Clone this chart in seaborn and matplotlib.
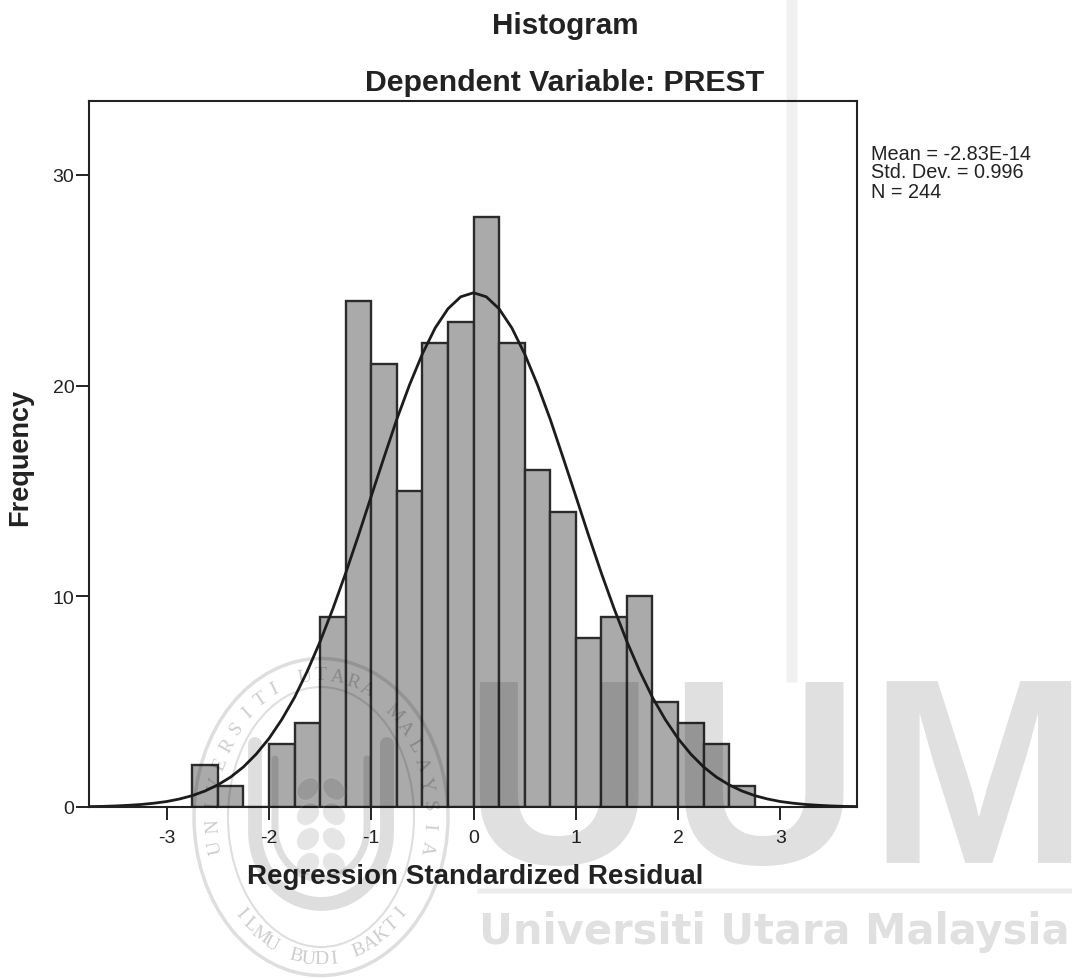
import numpy as np
import matplotlib
matplotlib.use('Agg')
import matplotlib.pyplot as plt
from matplotlib.lines import Line2D
from matplotlib.patches import Ellipse, Rectangle
import seaborn as sns

# bin edges and counts
bin_edges = [-2.75, -2.5, -2.25, -2.0, -1.75, -1.5, -1.25, -1.0, -0.75, -0.5, -0.25, 0.0,
             0.25, 0.5, 0.75, 1.0, 1.25, 1.5, 1.75, 2.0, 2.25, 2.5, 2.75]
counts = [2, 1, 0, 3, 4, 9, 24, 21, 15, 22, 23, 28, 22, 16, 14, 8, 9, 10, 5, 4, 3, 1]

# normal curve, right half (it is symmetric)
curve_x = [0.0, 0.125, 0.25, 0.375, 0.5, 0.625, 0.75, 0.875, 1.0, 1.125, 1.25, 1.375, 1.5, 1.625, 1.75,
           1.875, 2.0, 2.125, 2.25, 2.375, 2.5, 2.625, 2.75, 2.875, 3.0, 3.125, 3.25, 3.375, 3.5, 3.625, 3.75]
curve_y = [24.4, 24.21, 23.64, 22.73, 21.5, 20.04, 18.4, 16.59, 14.75, 12.89, 11.1, 9.41, 7.85, 6.45, 5.2,
           4.15, 3.25, 2.51, 1.9, 1.42, 1.05, 0.76, 0.54, 0.38, 0.26, 0.18, 0.12, 0.08, 0.05, 0.03, 0.02]

x_ticks = [-3, -2, -1, 0, 1, 2, 3]
y_ticks = [0, 10, 20, 30]
stats_text = "Mean = -2.83E-14\nStd. Dev. = 0.996\nN = 244"
arc_top = "UNIVERSITI UTARA MALAYSIA"
arc_bottom = "ILMU BUDI BAKTI"

W, H = 1072, 979
sns.set_style('white')
plt.rcParams['font.family'] = ['Liberation Sans', 'DejaVu Sans']
plt.rcParams['axes.unicode_minus'] = False

fig = plt.figure(figsize=(W / 100, H / 100), dpi=100)
ax = fig.add_axes([89 / W, 1 - 808 / H, 768 / W, 706 / H])
ax.patch.set_visible(False)

centers = [(a + b) / 2 for a, b in zip(bin_edges[:-1], bin_edges[1:])]
sns.histplot(x=centers, weights=counts, bins=bin_edges, color='#aaaaaa', edgecolor='#2b2b2b',
             linewidth=1.7, alpha=1, ax=ax)

xs = np.concatenate([-np.array(curve_x[:0:-1]), curve_x])
ys = np.concatenate([curve_y[:0:-1], curve_y])
sns.lineplot(x=xs, y=ys, color='#1c1c1c', linewidth=2.0, ax=ax, sort=False)

ax.set_xlim(-3.76, 3.75)
ax.set_ylim(0, 33.5)
ax.set_xticks(x_ticks)
ax.set_yticks(y_ticks)
ax.tick_params(axis='both', direction='out', length=9.5, width=1.4, color='#222222',
               labelsize=14, labelcolor='#222222', bottom=True, left=True)
ax.tick_params(axis='x', pad=6)
ax.tick_params(axis='y', pad=1)
for s in ax.spines.values():
    s.set_visible(True)
    s.set_color('#222222')
    s.set_linewidth(1.5)

ax.set_xlabel('Regression Standardized Residual', fontsize=20, fontweight='bold', color='#222222')
ax.xaxis.set_label_coords(0.503, -0.08)
ax.set_ylabel('Frequency', fontsize=19.5, fontweight='bold', color='#222222')
ax.yaxis.set_label_coords(-0.073, 0.497)


def px(x, y):
    return x / W, 1 - y / H


fig.text(*px(565, 26), 'Histogram', ha='center', va='center', fontsize=21.3, fontweight='bold', color='#222222')
fig.text(*px(565, 83), 'Dependent Variable: PREST', ha='center', va='center', fontsize=21.8,
         fontweight='bold', color='#222222')
fig.text(*px(871, 173), stats_text, ha='left', va='center', fontsize=14.3, linespacing=1.0, color='#222222')

# watermark of the scan, drawn over everything
wm = dict(color='black', alpha=0.12, zorder=10)
for letter, lx in [('U', 558), ('U', 763), ('M', 978)]:
    fig.text(*px(lx, 795), letter, ha='center', va='center', fontsize=190, fontweight='bold', **wm)
fig.text(*px(774, 932), 'Universiti Utara Malaysia', ha='center', va='center', fontsize=30,
         fontweight='bold', family='DejaVu Sans', **wm)
fig.add_artist(Rectangle(px(477, 894), 595 / W, 5 / H, transform=fig.transFigure, facecolor='black',
                         alpha=0.08, zorder=10))
fig.add_artist(Rectangle(px(786, 683), 11 / W, 683 / H, transform=fig.transFigure, facecolor='black',
                         alpha=0.06, zorder=10))

# university seal
cx, cy = 321, 818
for w_px, h_px, lw in [(254, 317, 2.5), (186, 260, 1.5)]:
    fig.add_artist(Ellipse(px(cx, cy), w_px / W, h_px / H, transform=fig.transFigure, fill=False,
                           edgecolor='black', alpha=0.13, linewidth=lw, zorder=10))


def shield(half_w, top, bottom, lw):
    t = np.linspace(np.pi, 2 * np.pi, 40)
    mid = bottom - half_w * 1.1
    sx = np.concatenate([[cx - half_w], cx + half_w * np.cos(t), [cx + half_w]])
    sy = np.concatenate([[top], mid - half_w * 1.1 * np.sin(t), [top]])
    fig.add_artist(Line2D(sx / W, 1 - sy / H, transform=fig.transFigure, color='black', alpha=0.13,
                          linewidth=lw, zorder=10))


shield(66, 745, 905, 10)
shield(46, 760, 880, 5)
# wheat leaves inside the shield
for dy in [790, 815, 840, 865]:
    for side in [-1, 1]:
        fig.add_artist(Ellipse(px(cx + side * 13, dy), 20 / W, 24 / H, angle=side * 35, transform=fig.transFigure,
                               facecolor='black', alpha=0.1, zorder=10))


def arc_letters(text, start, end, flip=False):
    angles = np.linspace(start, end, len(text))
    for ch, a in zip(text, angles):
        r = np.radians(a)
        lx = cx + 108 * np.cos(r)
        ly = cy - 142 * np.sin(r)
        rot = a + 90 if flip else a - 90
        fig.text(*px(lx, ly), ch, ha='center', va='center', rotation=rot, fontsize=14,
                 family='Liberation Serif', color='black', alpha=0.2, zorder=10)


arc_letters(arc_top, 192, -12)
arc_letters(arc_bottom, 222, 318, flip=True)

fig.savefig('out.png', dpi=100)
